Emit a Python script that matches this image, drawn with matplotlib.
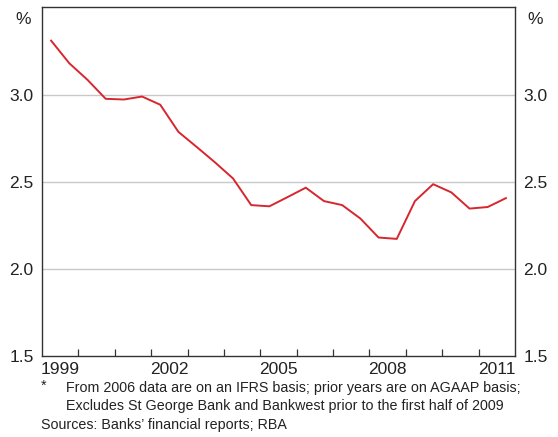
import matplotlib
matplotlib.use("Agg")
import matplotlib.pyplot as plt

plt.rcParams['font.family'] = ['Liberation Sans', 'DejaVu Sans']

# half-yearly observations, 1999 H1 .. 2011 H2
years = [1999 + 0.25 + 0.5 * i for i in range(26)]
values = [3.31, 3.18, 3.085, 2.976, 2.972, 2.989, 2.942, 2.786, 2.70, 2.612,
          2.519, 2.366, 2.359, 2.412, 2.466, 2.389, 2.366, 2.289, 2.18, 2.172,
          2.389, 2.486, 2.439, 2.346, 2.355, 2.406]
year_labels = ['1999', '2002', '2005', '2008', '2011']

fig = plt.figure(figsize=(5.58, 4.37), dpi=100)
ax = fig.add_axes([42 / 558, 81 / 437, 473 / 558, 348.5 / 437])

for g in [2.0, 2.5, 3.0]:
    ax.axhline(g, color='#c8c8c8', lw=1, zorder=1)

ax.plot(years, values, color='#d7262e', lw=1.4, zorder=3)

ax.set_xlim(1999, 2012)
ax.set_ylim(1.5, 3.5)

ax.set_xticks(range(2000, 2012))
ax.set_xticklabels([])
ax.set_xticks([int(y) + 0.5 for y in year_labels], minor=True)
ax.set_xticklabels(year_labels, minor=True)
ax.tick_params(axis='x', which='major', direction='in', length=5, width=0.9, color='#333333')
ax.tick_params(axis='x', which='minor', length=0, labelsize=12.5, pad=4, colors='#222222')

ax.set_yticks([1.5, 2.0, 2.5, 3.0])
ax.set_yticklabels(['1.5', '2.0', '2.5', '3.0'])
ax.tick_params(axis='y', length=0, labelsize=12.5, pad=6, labelright=True, colors='#222222')

for s in ax.spines.values():
    s.set_color('#333333')
    s.set_linewidth(1.0)

fig.text(23 / 558, 1 - 19 / 437, '%', fontsize=12.5, ha='center', va='center', color='#222222')
fig.text(535 / 558, 1 - 19 / 437, '%', fontsize=12.5, ha='center', va='center', color='#222222')

fs = 10.3
fig.text(41 / 558, 1 - 386 / 437, '*', fontsize=fs, ha='left', va='center', color='#222222')
fig.text(66 / 558, 1 - 388 / 437,
         'From 2006 data are on an IFRS basis; prior years are on AGAAP basis;',
         fontsize=fs, ha='left', va='center', color='#222222')
fig.text(66 / 558, 1 - 406 / 437,
         'Excludes St George Bank and Bankwest prior to the first half of 2009',
         fontsize=fs, ha='left', va='center', color='#222222')
fig.text(41 / 558, 1 - 425 / 437, "Sources: Banks\u2019 financial reports; RBA",
         fontsize=fs, ha='left', va='center', color='#222222')

fig.savefig('out.png', dpi=100)
